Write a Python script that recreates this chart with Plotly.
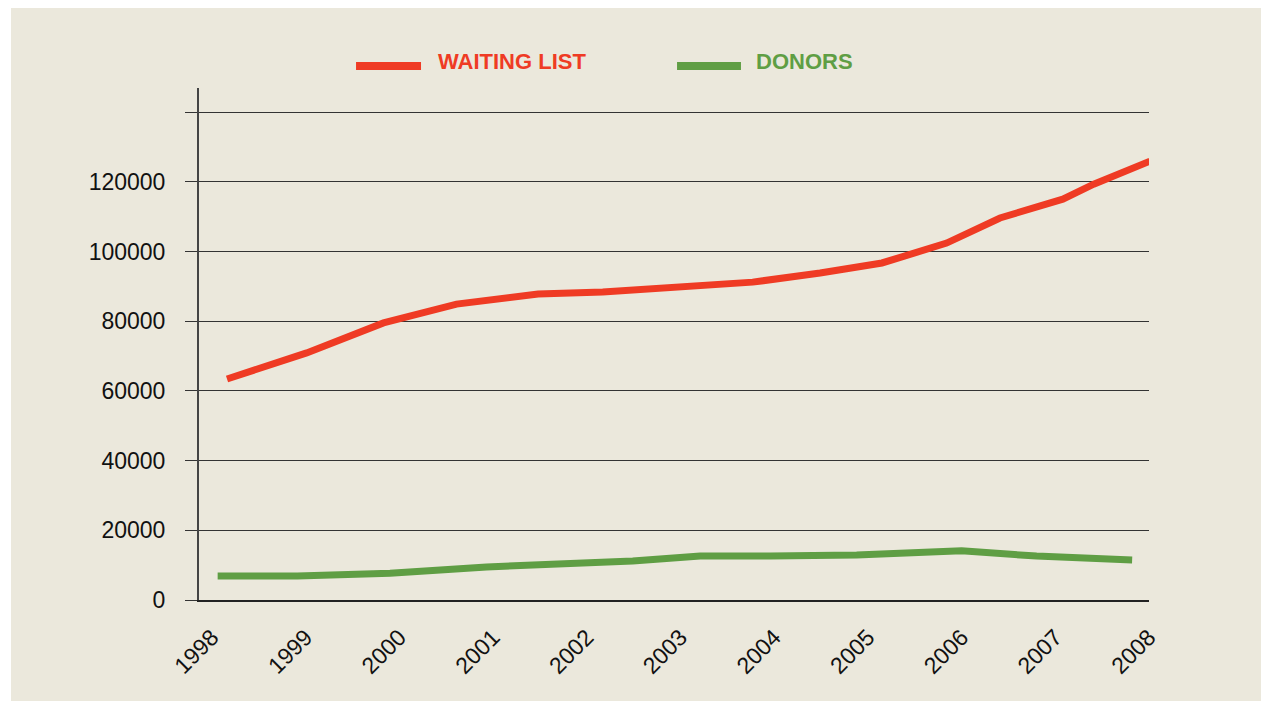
import plotly.graph_objects as go

# Data (x as fractional years)
years = [1998, 1999, 2000, 2001, 2002, 2003, 2004, 2005, 2006, 2007, 2008]
year_labels = [str(y) for y in years]

waiting_x = [1998.16, 1999.01, 1999.83, 2000.61, 2001.48, 2002.17, 2003.77,
             2004.49, 2005.15, 2005.84, 2006.41, 2007.08, 2007.41, 2008.01]
waiting_y = [63400, 70900, 79500, 84900, 87800, 88400, 91200,
             93800, 96700, 102400, 109600, 115000, 119300, 125900]

donors_x = [1998.06, 1998.91, 1999.90, 2000.93, 2002.49, 2003.21,
            2003.96, 2004.88, 2006.00, 2006.80, 2007.82]
donors_y = [6900, 6900, 7700, 9500, 11200, 12600,
            12600, 12900, 14100, 12600, 11500]

y_ticks = [0, 20000, 40000, 60000, 80000, 100000, 120000, 140000]
y_tick_text = ["0", "20000", "40000", "60000", "80000", "100000", "120000", ""]

RED = "#ef3b24"
GREEN = "#5f9e44"
BEIGE = "#ebe8dc"
GRID = "#333333"

fig = go.Figure()
fig.add_trace(go.Scatter(x=waiting_x, y=waiting_y, mode="lines", name="WAITING LIST",
                         line=dict(color=RED, width=7), showlegend=False))
fig.add_trace(go.Scatter(x=donors_x, y=donors_y, mode="lines", name="DONORS",
                         line=dict(color=GREEN, width=7), showlegend=False))

# beige panel
fig.add_shape(type="rect", xref="paper", yref="paper",
              x0=-0.1979, x1=1.1179, y0=-0.1973, y1=1.16,
              fillcolor=BEIGE, line=dict(width=0), layer="below")

# legend
fig.add_shape(type="line", xref="paper", yref="paper", x0=0.1653, x1=0.2337, y0=1.043, y1=1.043,
              line=dict(color=RED, width=8))
fig.add_shape(type="line", xref="paper", yref="paper", x0=0.5032, x1=0.5705, y0=1.043, y1=1.043,
              line=dict(color=GREEN, width=8))
legend_font = "Liberation Sans Narrow, Arial Narrow, Liberation Sans, sans-serif"
fig.add_annotation(xref="paper", yref="paper", x=0.2495, y=1.052, xanchor="left", yanchor="middle",
                   text="<b>WAITING LIST</b>", showarrow=False,
                   font=dict(family=legend_font, size=22, color=RED))
fig.add_annotation(xref="paper", yref="paper", x=0.5842, y=1.052, xanchor="left", yanchor="middle",
                   text="<b>DONORS</b>", showarrow=False,
                   font=dict(family=legend_font, size=22, color=GREEN))

tick_font = dict(family="Liberation Sans, Arial, sans-serif", size=23, color="#111111")

fig.update_layout(
    width=1256, height=697,
    margin=dict(l=191, r=115, t=80, b=105),
    paper_bgcolor="white",
    plot_bgcolor="rgba(0,0,0,0)",
    xaxis=dict(range=[1997.861, 2008.0], tickvals=years, ticktext=year_labels,
               tickangle=-45, showgrid=False, zeroline=False, showline=True,
               linecolor="#222222", linewidth=1.5, ticks="", tickfont=tick_font,
               ticklabelstandoff=13),
    yaxis=dict(range=[0, 146900], tickvals=y_ticks, ticktext=y_tick_text,
               showgrid=True, gridcolor=GRID, gridwidth=1.3, zeroline=False,
               showline=True, linecolor="#444444", linewidth=2,
               ticks="outside", ticklen=12, tickcolor=GRID, tickwidth=1.3,
               tickfont=tick_font, ticklabelstandoff=15),
)

fig.write_html("out.html")
